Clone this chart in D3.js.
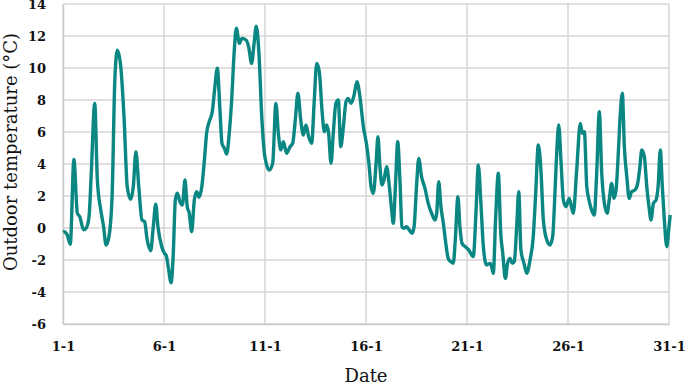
<!DOCTYPE html>
<html>
<head>
<meta charset="utf-8">
<script src="https://cdn.jsdelivr.net/npm/d3@7"></script>
<style>
  body { margin: 0; background: #fff; }
  svg text { font-family: "DejaVu Serif", Georgia, serif; fill: #111; }
</style>
</head>
<body>
<svg id="chart" width="685" height="382"></svg>
<script>
// day of month (January)
const days = [1.00, 1.05, 1.21, 1.36, 1.54, 1.71, 1.83, 2.02, 2.15, 2.29, 2.40, 2.57, 2.70, 2.87, 3.01, 3.13,
  3.26, 3.43, 3.56, 3.69, 3.86, 4.02, 4.18, 4.35, 4.48, 4.61, 4.75, 4.91, 5.04, 5.17, 5.34, 5.47,
  5.59, 5.70, 5.89, 6.03, 6.10, 6.21, 6.35, 6.46, 6.56, 6.66, 6.79, 6.91, 7.04, 7.15, 7.25, 7.37,
  7.50, 7.62, 7.73, 7.87, 8.00, 8.11, 8.24, 8.39, 8.52, 8.64, 8.77, 8.87, 8.99, 9.10, 9.23, 9.35,
  9.47, 9.58, 9.73, 9.86, 10.06, 10.19, 10.34, 10.46, 10.57, 10.70, 10.84, 10.97, 11.05, 11.21, 11.38, 11.54,
  11.66, 11.78, 11.91, 12.07, 12.24, 12.37, 12.50, 12.63, 12.77, 12.90, 13.03, 13.16, 13.31, 13.44, 13.56, 13.69,
  13.82, 13.94, 14.05, 14.15, 14.27, 14.38, 14.51, 14.63, 14.75, 14.88, 15.01, 15.12, 15.26, 15.41, 15.55, 15.70,
  15.87, 16.03, 16.16, 16.25, 16.36, 16.50, 16.59, 16.69, 16.79, 16.89, 17.02, 17.14, 17.27, 17.35, 17.47, 17.57,
  17.68, 17.78, 17.88, 18.01, 18.14, 18.28, 18.38, 18.51, 18.61, 18.75, 18.92, 19.08, 19.25, 19.42, 19.50, 19.60,
  19.71, 19.83, 19.95, 20.07, 20.19, 20.32, 20.42, 20.55, 20.65, 20.75, 20.92, 21.09, 21.31, 21.45, 21.56, 21.68,
  21.81, 21.97, 22.14, 22.22, 22.30, 22.42, 22.55, 22.67, 22.77, 22.90, 23.01, 23.13, 23.24, 23.34, 23.46, 23.56,
  23.67, 23.82, 23.96, 24.12, 24.28, 24.40, 24.53, 24.66, 24.78, 24.95, 25.11, 25.24, 25.36, 25.44, 25.54, 25.65,
  25.77, 25.90, 26.06, 26.26, 26.43, 26.61, 26.71, 26.81, 26.93, 27.04, 27.17, 27.30, 27.42, 27.55, 27.67, 27.80,
  27.94, 28.04, 28.16, 28.28, 28.38, 28.49, 28.59, 28.69, 28.79, 28.91, 29.03, 29.15, 29.32, 29.45, 29.56, 29.65,
  29.78, 29.90, 30.01, 30.11, 30.23, 30.36, 30.46, 30.57, 30.67, 30.77, 30.89, 31.00, 31.06];

// outdoor temperature, °C
const temps = [-0.25, -0.23, -0.44, -1.02, 4.29, 0.92, 0.71, -0.12, 0.00, 0.71, 3.44, 7.79, 3.00, 1.12, 0.08, -1.06,
  -0.65, 1.96, 9.04, 11.12, 10.08, 6.96, 2.58, 1.79, 2.58, 4.77, 2.58, 0.50, 0.39, -0.75, -1.42, 0.08,
  1.48, 0.08, -1.17, -1.60, -1.69, -2.42, -3.42, -1.58, 1.75, 2.17, 1.64, 1.44, 3.00, 1.33, 0.92, -0.23,
  1.75, 2.27, 1.92, 2.58, 4.25, 5.92, 6.65, 7.27, 8.83, 9.98, 7.38, 5.29, 4.98, 4.62, 5.92, 8.00,
  10.92, 12.48, 11.54, 11.85, 11.75, 11.33, 10.29, 11.54, 12.62, 10.92, 6.96, 4.67, 4.10, 3.62, 4.04, 7.79,
  5.92, 4.88, 5.39, 4.67, 5.08, 5.29, 6.75, 8.42, 6.75, 5.81, 6.44, 5.71, 5.29, 8.00, 10.29, 9.77,
  7.38, 6.02, 6.44, 5.92, 4.04, 5.92, 7.79, 8.00, 5.08, 6.33, 7.89, 8.10, 7.79, 8.31, 9.15, 8.21,
  6.33, 5.20, 3.83, 2.58, 2.17, 4.04, 5.71, 3.83, 2.69, 3.00, 3.83, 2.79, 1.12, 0.29, 3.00, 5.39,
  3.00, 0.08, -0.02, 0.08, -0.12, -0.33, 0.08, 2.79, 4.35, 3.21, 2.48, 1.54, 0.92, 0.50, 0.92, 2.90,
  1.33, 0.29, -0.96, -1.90, -2.10, -2.20, -0.75, 1.96, 0.08, -0.96, -1.17, -1.38, -1.79, 1.12, 3.94, 1.75,
  -1.17, -2.31, -2.21, -2.42, -2.83, 0.71, 3.42, -0.33, -1.58, -3.15, -2.20, -1.90, -2.20, -2.10, 0.08, 2.27,
  -1.38, -2.20, -2.83, -2.00, -0.54, 2.17, 5.19, 3.62, 0.50, -0.75, -1.06, -0.54, 2.38, 4.67, 6.44, 4.25,
  1.75, 1.33, 1.85, 0.92, 3.62, 6.54, 5.92, 6.02, 2.58, 1.75, 1.12, 0.81, 3.42, 7.27, 3.42, 1.54,
  0.92, 1.75, 2.79, 1.85, 2.38, 4.67, 7.17, 8.42, 5.08, 3.21, 1.85, 2.27, 2.38, 2.79, 3.83, 4.88,
  4.46, 2.58, 1.33, 0.50, 1.54, 1.75, 2.58, 4.88, 2.58, 0.50, -1.17, 0.08, 0.81];

const dayTicks = [1, 6, 11, 16, 21, 26, 31];
const tempTicks = [-6, -4, -2, 0, 2, 4, 6, 8, 10, 12, 14];

const margin = { top: 4, right: 16, bottom: 58, left: 63 };
const W = 685, H = 382;

const svg = d3.select('#chart');
const x = d3.scaleLinear().domain([1, 31]).range([margin.left, W - margin.right]);
const y = d3.scaleLinear().domain([-6, 14]).range([H - margin.bottom, margin.top]);

const gridColor = '#d6d6d6';

// horizontal grid
svg.append('g')
  .selectAll('line').data(tempTicks).join('line')
  .attr('x1', x(1)).attr('x2', x(31))
  .attr('y1', d => y(d)).attr('y2', d => y(d))
  .attr('stroke', gridColor).attr('stroke-width', 1.5);

// vertical grid
svg.append('g')
  .selectAll('line').data(dayTicks).join('line')
  .attr('x1', d => x(d)).attr('x2', d => x(d))
  .attr('y1', y(14)).attr('y2', y(-6))
  .attr('stroke', gridColor).attr('stroke-width', 1.5);

// axes (labels only, lines come from the grid)
const xAxis = svg.append('g')
  .attr('transform', `translate(0,${y(-6)})`)
  .call(d3.axisBottom(x).tickValues(dayTicks).tickFormat(d => d + '-1').tickSize(0).tickPadding(18));
const yAxis = svg.append('g')
  .attr('transform', `translate(${x(1)},0)`)
  .call(d3.axisLeft(y).tickValues(tempTicks).tickFormat(d => d).tickSize(0).tickPadding(17));
[xAxis, yAxis].forEach(a => {
  a.select('.domain').attr('stroke', '#cccccc').attr('stroke-width', 1.5);
  a.selectAll('text').attr('font-size', 13).attr('font-weight', 'bold')
    .attr('font-family', '"DejaVu Serif", serif').attr('fill', '#1a1a1a');
});

// line
const line = d3.line()
  .x((d, i) => x(days[i]))
  .y(d => y(d))
  .curve(d3.curveMonotoneX);

svg.append('path')
  .datum(temps)
  .attr('d', line)
  .attr('fill', 'none')
  .attr('stroke', '#0b8783')
  .attr('stroke-width', 3.4)
  .attr('stroke-linejoin', 'round');

// titles
svg.append('text')
  .attr('x', (x(1) + x(31)) / 2).attr('y', 382)
  .attr('text-anchor', 'middle')
  .attr('font-size', 18)
  .text('Date');

svg.append('text')
  .attr('transform', `translate(17,${152}) rotate(-90)`)
  .attr('text-anchor', 'middle')
  .attr('font-size', 18)
  .text('Outdoor temperature (°C)');
</script>
</body>
</html>
